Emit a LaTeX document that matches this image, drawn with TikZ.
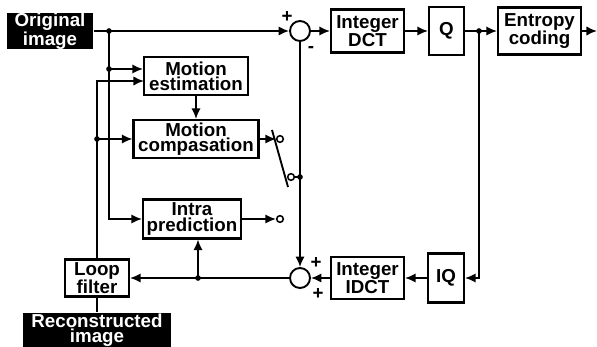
\documentclass[tikz,border=0pt]{standalone}
\usepackage{fontspec}
\setmainfont{Liberation Sans}
\usetikzlibrary{arrows.meta,positioning}

\begin{document}
\begin{tikzpicture}[x=0.03cm,y=-0.03cm,>={Latex[length=9pt,width=8pt]},line width=1.6pt,every node/.style={font=\fontsize{16}{13}\selectfont\bfseries, align=center, inner sep=0pt}, block/.style={draw, line width=1.8pt, fill=white}, tagbox/.style={fill=black, text=white}, sum/.style={draw, circle, minimum size=0.6cm, line width=1.6pt}, term/.style={draw, circle, minimum size=0.2cm, line width=1.3pt, fill=white}]
        \useasboundingbox (0,0) rectangle (597,347);
        \node[tagbox, minimum width=2.58cm, minimum height=1.08cm] (orig) at (50,31) {Original\\image};
        \node[sum] (sum1) at (300,31) {};
        \node[block, minimum width=2.19cm, minimum height=1.29cm] (dct) at (367.5,31) {Integer\\DCT};
        \node[block, minimum width=1.05cm, minimum height=1.44cm] (q) at (446.5,31) {Q};
        \node[block, minimum width=2.49cm, minimum height=1.41cm] (ent) at (539.5,31) {Entropy\\coding};
        \node[block, minimum width=3.12cm, minimum height=1.14cm] (me) at (196,76) {Motion\\estimation};
        \node[block, minimum width=3.75cm, minimum height=1.14cm] (mc) at (196,139) {Motion\\compasation};
        \node[block, minimum width=2.94cm, minimum height=1.17cm] (intra) at (192,219) {Intra\\prediction};
        \node[block, minimum width=1.92cm, minimum height=1.11cm] (loop) at (97,278) {Loop\\filter};
        \node[tagbox, minimum width=4.41cm, minimum height=1.02cm] (recon) at (97,330) {Reconstructed\\image};
        \node[sum] (sum2) at (300,278) {};
        \node[block, minimum width=2.19cm, minimum height=1.26cm] (idct) at (367.5,278) {Integer\\IDCT};
        \node[block, minimum width=1.08cm, minimum height=1.47cm] (iq) at (446,278) {IQ};
        \node[term] (t1) at (280,139) {};
        \node[term] (t2) at (291,177) {};
        \node[term] (t3) at (280,219) {};
        \node (p1) at (287,17) {+};
        \node (m1) at (311,50) {-};
        \node (p2) at (316,263) {+};
        \node (p3) at (318,294) {+};
        \coordinate (j1) at (109,31);
        \coordinate (j2) at (109,69);
        \coordinate (j3) at (97,139);
        \coordinate (j4) at (300,177);
        \coordinate (j5) at (479,31);
        \coordinate (j6) at (198,278);
        \coordinate (mein) at (144,81);
        \coordinate (swa) at (272,130);
        \coordinate (swb) at (288,187);
        \coordinate (out) at (597,31);
        \draw[->] (orig) -- (sum1);
        \draw[->] (j1) |- (intra.west);
        \draw[->] (j2) -- (j2 -| me.west);
        \draw[->] (loop.north) |- (mein);
        \draw[->] (j3) -- (mc.west);
        \draw[->] (me) -- (mc);
        \draw[->] (mc) -- (t1);
        \draw[->] (intra) -- (t3);
        \draw (swa) -- (swb);
        \draw (t2) -- (j4);
        \draw[->] (sum1) -- (sum2);
        \draw[->] (sum1) -- (dct);
        \draw[->] (dct) -- (q);
        \draw[->] (q) -- (ent);
        \draw[->] (ent) -- (out);
        \draw[->] (j5) |- (iq);
        \draw[->] (iq) -- (idct);
        \draw[->] (idct) -- (sum2);
        \draw[->] (sum2) -- (loop);
        \draw[->] (j6) -- (j6 |- intra.south);
        \draw (loop) -- (recon);
        \foreach \j in {j1,j2,j3,j4,j5,j6} \fill (\j) circle (2.4pt);
    \end{tikzpicture}
\end{document}
